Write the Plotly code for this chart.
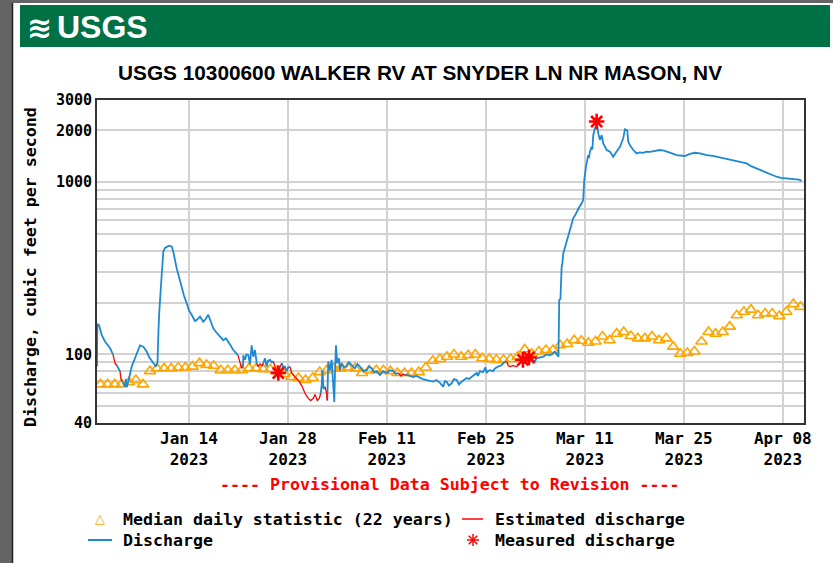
import pandas as pd
import plotly.graph_objects as go

start = pd.Timestamp("2023-01-01")

# daily median statistic (22 years), one value per day from Jan 1 (plotted at noon)
median_cfs = [67, 67, 67, 67, 69, 71, 67, 80, 83, 83,
              83, 84, 84, 85, 89, 87, 86, 81, 81, 81,
              81, 83, 83, 82, 82, 80, 77, 74, 73, 71,
              73, 79, 81, 83, 83, 84, 83, 78, 81, 81,
              81, 80, 78, 78, 78, 79, 84, 92, 94, 97,
              100, 97, 99, 100, 95, 94, 93, 93, 94, 97,
              107, 101, 104, 106, 106, 113, 115, 121, 120, 117,
              119, 127, 121, 132, 135, 128, 124, 124, 127, 121,
              124, 111, 101, 102, 104, 119, 135, 132, 135, 145,
              169, 177, 182, 169, 173, 173, 167, 177, 196, 189]

# discharge (days since Jan 1, cfs); None = gap where the value is estimated
discharge = [
    (0.00, 85), (0.05, 150), (0.28, 148), (0.66, 130), (1.13, 119), (1.84, 109), (2.26, 100), None,
    (2.83, 86), (3.01, 83), (3.25, 80), None,
    (3.54, 70), (3.96, 65), (4.10, 72), (4.24, 65), (4.43, 69.5), (4.67, 78), (4.91, 85),
    (5.37, 95), (5.73, 105), (6.08, 113), (6.55, 111), (7.03, 104), (7.35, 97), (7.74, 91),
    (8.06, 88), (8.34, 85), (8.56, 90), (8.70, 140), (8.81, 177), (9.15, 289), (9.38, 395),
    (9.62, 415), (9.86, 422), (10.18, 428), (10.56, 424), (10.79, 395), (11.27, 316),
    (11.60, 280), (11.98, 242), (12.30, 220), (12.69, 198), (13.01, 180), (13.39, 170),
    (13.86, 156), (14.21, 160), (14.57, 166), (15.03, 155), (15.34, 160), (15.74, 170),
    (16.05, 158), (16.45, 142), (16.83, 135), (17.15, 130), (17.54, 125), (17.86, 121),
    (18.24, 124), (18.57, 119), (18.95, 112), (19.28, 106), (19.66, 102), (19.94, 99), None,
    (20.65, 85), (20.69, 99), (20.93, 93), (21.14, 100), (21.40, 99), (21.64, 88), (21.88, 113),
    (22.10, 97), (22.34, 106), (22.59, 89), None,
    (23.52, 89), (23.76, 95), (24.00, 85), (24.18, 92), (24.47, 93), (24.71, 90), (24.93, 91), None,
    (26.12, 89), (26.38, 84), (26.59, 85), (26.83, 80), (27.05, 84), (27.29, 85), None,
    (31.64, 59.5), (31.78, 66), (31.89, 81), (32.03, 63), (32.24, 65), None,
    (32.57, 54), (32.60, 70), (32.71, 91), (32.95, 81), (33.19, 93), (33.38, 70), (33.56, 53),
    (33.66, 78), (33.80, 113), (33.98, 89), (34.22, 95), (34.37, 81), (34.61, 89), (34.93, 84),
    (35.31, 85), (35.64, 90), (36.02, 87), (36.49, 83), (36.84, 88), (37.19, 85), (37.62, 80),
    (38.14, 81), (38.47, 85), (38.85, 83), (39.17, 79), (39.56, 80), (40.02, 76), (40.45, 80),
    (40.97, 78), (41.44, 81), (41.90, 80), (42.29, 77), (42.61, 78), None,
    (43.56, 76), (43.80, 76), (44.27, 75), (44.73, 74), (45.18, 75), (45.68, 73), (46.10, 72),
    (46.63, 71), (47.09, 70), (47.56, 69.5), (48.01, 71), (48.51, 68.4), (48.97, 65), (49.21, 70),
    (49.45, 69.5), (49.78, 66), (50.16, 68), (50.49, 72), (50.87, 71), (51.20, 67), (51.58, 69.5),
    (51.90, 71), (52.28, 73), (52.61, 72), (52.99, 74), (53.32, 76), (53.70, 78), (53.88, 75),
    (54.16, 80), (54.59, 79), (54.94, 84), (55.11, 78), (55.30, 80), (55.58, 81), (56.00, 80),
    (56.29, 83), (56.71, 85), (57.23, 86.5), (57.56, 90), (57.94, 91), None,
    (61.70, 93), (61.94, 91), (62.18, 95), (62.65, 96), (63.12, 97), (63.57, 100), (64.06, 99),
    (64.42, 101), (64.77, 104), (65.05, 100), (65.27, 97), (65.38, 207), (65.55, 210),
    (65.72, 323), (65.83, 340), (65.95, 386), (66.19, 420), (66.43, 461), (66.62, 480),
    (66.90, 527), (67.11, 570), (67.36, 617), (67.60, 640), (67.84, 673), (68.17, 710),
    (68.55, 754), (68.77, 788), (68.92, 1029), (69.16, 1230), (69.48, 1436), (69.58, 1380),
    (69.72, 1503), (69.96, 1606), (70.07, 1550), (70.19, 1877), (70.43, 2052), (70.67, 2148),
    (70.78, 2100), (70.90, 1920), (71.14, 1756), (71.38, 1877), (71.61, 1680), (71.85, 1600),
    (72.09, 1537), (72.56, 1503), (73.02, 1405), (73.47, 1500), (73.97, 1606), (74.43, 1797),
    (74.67, 2027), (75.00, 2000), (75.14, 1717), (75.45, 1620), (75.85, 1537), (76.33, 1470),
    (76.79, 1490), (77.22, 1480), (77.74, 1503), (78.21, 1500), (78.91, 1520), (79.62, 1537),
    (80.19, 1525), (80.80, 1503), (81.32, 1470), (81.98, 1436), (82.59, 1420), (83.16, 1419),
    (83.86, 1460), (84.57, 1482), (85.28, 1470), (86.23, 1436), (87.12, 1420), (88.11, 1393),
    (89.10, 1370), (89.99, 1343), (90.94, 1320), (91.89, 1286), (92.50, 1240), (93.30, 1202),
    (93.91, 1170), (94.71, 1135), (95.32, 1100), (96.12, 1076), (96.73, 1060), (97.54, 1052),
    (98.01, 1045), (98.47, 1041), (98.99, 1030), (99.28, 1035), (99.66, 1018),
]

# estimated discharge segments
estimated = [
    (2.26, 100), (2.55, 89), (2.83, 86), None,
    (3.25, 80), (3.39, 72), (3.54, 70), None,
    (19.94, 99), (20.15, 92), (20.46, 83), (20.65, 85), None,
    (22.59, 89), (22.77, 85), (23.05, 88), (23.33, 86), (23.52, 89), None,
    (24.93, 91), (25.17, 84), (25.46, 79), (25.74, 82), (26.12, 89), None,
    (27.29, 85), (27.54, 78), (28.00, 74), (28.47, 71), (28.95, 66), (29.42, 59.5), (29.88, 55.6),
    (30.22, 54), (30.59, 55.6), (30.83, 58.5), (31.16, 54), (31.44, 55.6), (31.64, 59.5), None,
    (32.24, 65), (32.46, 60), (32.57, 54), None,
    (42.61, 78), (42.99, 75), (43.28, 77), (43.56, 76), None,
    (57.94, 91), (58.19, 86), (58.41, 85), (58.83, 86), (59.36, 85), (59.82, 90), (60.29, 95),
    (60.81, 92), (61.24, 94), (61.70, 93),
]

measured_days = [25.64, 60.25, 61.10, 70.67]
measured_cfs = [78, 93, 96, 2250]

tick_dates = ["2023-01-14", "2023-01-28", "2023-02-11", "2023-02-25",
              "2023-03-11", "2023-03-25", "2023-04-08"]
tick_labels = ["Jan 14<br>2023", "Jan 28<br>2023", "Feb 11<br>2023", "Feb 25<br>2023",
               "Mar 11<br>2023", "Mar 25<br>2023", "Apr 08<br>2023"]

y_grid = [40, 50, 60, 70, 80, 90, 100, 200, 300, 400, 500, 600, 700, 800, 900, 1000, 2000, 3000]
y_labels = ["40", "", "", "", "", "", "100", "", "", "", "", "", "", "", "", "1000", "2000", "3000"]

MONO = "DejaVu Sans Mono"
NARROW = "Liberation Sans Narrow, Arial Narrow, Liberation Sans, sans-serif"
BLUE = "#1f88d2"
ORANGE = "#ffa500"


def to_xy(points):
    xs, ys = [], []
    for p in points:
        if p is None:
            xs.append(None)
            ys.append(None)
        else:
            xs.append(start + pd.Timedelta(days=p[0]))
            ys.append(p[1])
    return xs, ys


# plot area in pixels: x 97..804, y 100..423 of an 833x563 figure
def px(x):
    return (x - 97) / 707


def py(y):
    return (423 - y) / 323


fig = go.Figure()

median_x = [start + pd.Timedelta(days=i + 0.5) for i in range(len(median_cfs))]
fig.add_scatter(x=median_x, y=median_cfs, mode="markers",
                marker=dict(symbol="triangle-up-open", size=10, color=ORANGE,
                            line=dict(color=ORANGE, width=1.6)))

dx, dy = to_xy(discharge)
fig.add_scatter(x=dx, y=dy, mode="lines", line=dict(color=BLUE, width=1.8), connectgaps=False)

ex, ey = to_xy(estimated)
fig.add_scatter(x=ex, y=ey, mode="lines", line=dict(color="#ff0000", width=1.3), connectgaps=False)

mx = [start + pd.Timedelta(days=d) for d in measured_days]
fig.add_scatter(x=mx, y=measured_cfs, mode="markers",
                marker=dict(symbol="asterisk-open", size=13, color="#ff0000",
                            line=dict(color="#ff0000", width=2.6)))

shapes = [
    # grey frame on the left and top of the page
    dict(type="rect", xref="paper", yref="paper", x0=px(0), x1=px(12), y0=py(563), y1=py(0),
         fillcolor="#646464", line=dict(width=0), layer="below"),
    dict(type="line", xref="paper", yref="paper", x0=px(12.5), x1=px(12.5), y0=py(563), y1=py(3),
         line=dict(color="#202020", width=1.5)),
    dict(type="rect", xref="paper", yref="paper", x0=px(0), x1=px(833), y0=py(3), y1=py(0),
         fillcolor="#646464", line=dict(width=0), layer="below"),
    # green banner
    dict(type="rect", xref="paper", yref="paper", x0=px(20), x1=px(830), y0=py(47), y1=py(5),
         fillcolor="#007144", line=dict(width=0), layer="below"),
    # legend symbols
    dict(type="line", xref="paper", yref="paper", x0=px(462), x1=px(483), y0=py(519), y1=py(519),
         line=dict(color="#ff0000", width=1.5)),
    dict(type="line", xref="paper", yref="paper", x0=px(88), x1=px(112), y0=py(540), y1=py(540),
         line=dict(color=BLUE, width=2)),
]
cx, cy, r = 473, 540, 6
for ddx, ddy in [(r, 0), (0, r), (0.72 * r, 0.72 * r), (0.72 * r, -0.72 * r)]:
    shapes.append(dict(type="line", xref="paper", yref="paper",
                       x0=px(cx - ddx), x1=px(cx + ddx), y0=py(cy - ddy), y1=py(cy + ddy),
                       line=dict(color="#ff0000", width=1.5)))

mono = dict(family=MONO, size=16.6, color="black", weight="bold")


def note(text, x, y, xanchor="left", **font):
    f = dict(mono)
    f.update(font)
    return dict(text=text, x=px(x), y=py(y), xref="paper", yref="paper", showarrow=False,
                xanchor=xanchor, yanchor="middle", font=f)


annotations = [
    note("≋", 39, 27, xanchor="center", size=30, color="white", family="DejaVu Sans"),
    note("USGS", 55, 27, size=32, color="white", family=NARROW),
    note("USGS 10300600 WALKER RV AT SNYDER LN NR MASON, NV", 420, 72, xanchor="center",
         size=20.8, family=NARROW),
    note("---- Provisional Data Subject to Revision ----", 450, 484, xanchor="center",
         color="#ff0000"),
    note("△", 100, 518, xanchor="center", size=13, color=ORANGE, family="DejaVu Sans", weight="normal"),
    note("Median daily statistic (22 years)", 121, 519),
    note("Estimated discharge", 493, 519),
    note("Discharge", 121, 540),
    note("Measured discharge", 493, 540),
]
ylab = note("Discharge, cubic feet per second", 30, 267, xanchor="center")
ylab["textangle"] = -90
annotations.append(ylab)

fig.update_layout(
    width=833, height=563,
    margin=dict(l=97, r=29, t=100, b=140),
    paper_bgcolor="white", plot_bgcolor="white",
    showlegend=False,
    shapes=shapes,
    annotations=annotations,
)

fig.update_xaxes(
    range=[start, start + pd.Timedelta(days=100)],
    tickvals=pd.to_datetime(tick_dates), ticktext=tick_labels,
    tickfont=dict(mono, size=16), ticks="",
    showgrid=True, gridcolor="#d2d2d2", gridwidth=1.5,
    showline=True, mirror=True, linecolor="#333333", linewidth=2,
    zeroline=False,
)
fig.update_yaxes(
    type="log", range=[1.60206, 3.47712],
    tickvals=y_grid, ticktext=y_labels,
    tickfont=dict(mono, size=15), ticks="",
    showgrid=True, gridcolor="#d2d2d2", gridwidth=1.5,
    showline=True, mirror=True, linecolor="#333333", linewidth=2,
    zeroline=False,
)

fig.write_html("out.html", config={"displayModeBar": False},
               post_script="document.body.style.margin='0';document.body.style.overflow='hidden';")
